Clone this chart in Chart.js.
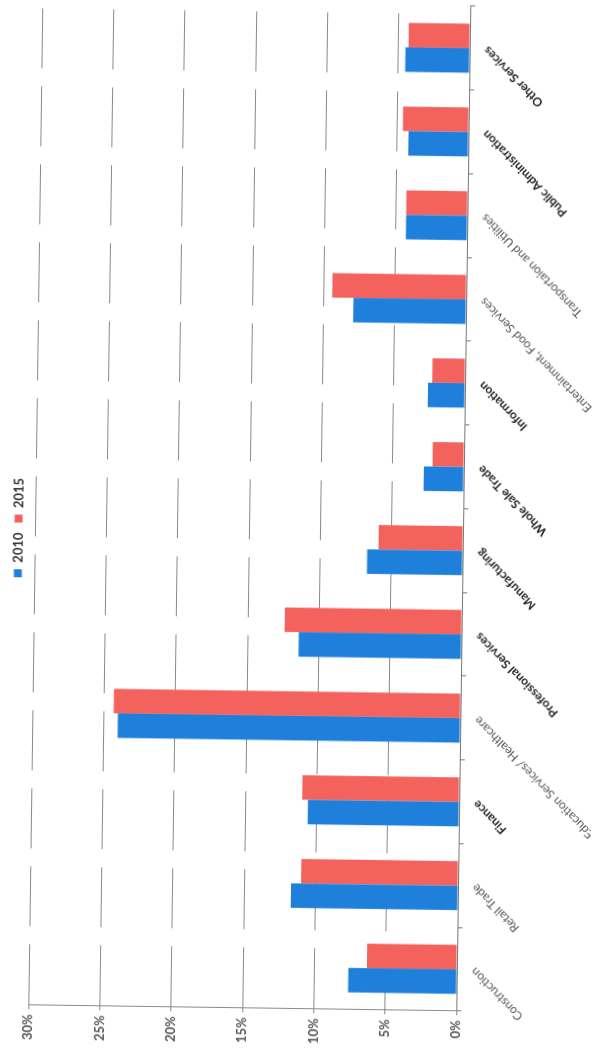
<!DOCTYPE html>
<html>
<head>
<meta charset="utf-8">
<script src="https://cdn.jsdelivr.net/npm/chart.js@4.4.1/dist/chart.umd.min.js"></script>
<style>
  html, body { margin: 0; padding: 0; background: #fff; overflow: hidden; }
  body { width: 595px; height: 1059px; position: relative; }
  /* the column chart is laid out landscape and turned onto the page */
  #wrap {
    position: absolute;
    left: -232px;
    top: 232px;
    width: 1059px;
    height: 595px;
    transform: rotate(-89.2deg);
    transform-origin: 50% 50%;
  }
</style>
</head>
<body>
<div id="wrap"><canvas id="sectorChart" width="1059" height="595"></canvas></div>
<script>
const sectors = [
    'Construction',
    'Retail Trade',
    'Finance',
    'Education Services/ Healthcare',
    'Professional Services',
    'Manufacturing',
    'Whole Sale Trade',
    'Information',
    'Entertainment, Food Services',
    'Transportaion and Utilities',
    'Public Administration',
    'Other Services'
];
const share2010 = [7.6, 11.7, 10.6, 24.0, 11.4, 6.7, 2.8, 2.6, 7.9, 4.3, 4.2, 4.5];
const share2015 = [6.3, 11.0, 11.0, 24.3, 12.4, 5.9, 2.2, 2.3, 9.4, 4.3, 4.6, 4.3];
const percentTicks = [0, 5, 10, 15, 20, 25, 30];

const FONT = 'Lato, "Open Sans", sans-serif';
const BLUE = '#1f80dc';
const RED = '#f3625c';

// these sector names print heavier on the axis
const heavyLabels = new Set([
    'Finance', 'Professional Services', 'Manufacturing', 'Whole Sale Trade',
    'Information', 'Public Administration', 'Other Services'
]);

const ctx = document.getElementById('sectorChart').getContext('2d');

new Chart(ctx, {
    type: 'bar',
    data: {
        labels: sectors,
        datasets: [
            {
                label: '2010',
                data: share2010,
                backgroundColor: BLUE,
                categoryPercentage: 0.585,
                barPercentage: 1.0
            },
            {
                label: '2015',
                data: share2015,
                backgroundColor: RED,
                categoryPercentage: 0.585,
                barPercentage: 1.0
            }
        ]
    },
    options: {
        responsive: false,
        animation: false,
        layout: {
            padding: { top: 2, right: 4, left: 0, bottom: 0 }
        },
        plugins: {
            legend: {
                display: true,
                position: 'top',
                labels: {
                    boxWidth: 8,
                    boxHeight: 8,
                    padding: 10,
                    color: '#333',
                    font: { family: FONT, size: 13, weight: 'bold' }
                }
            },
            tooltip: { enabled: false }
        },
        scales: {
            x: {
                grid: {
                    offset: true,
                    drawOnChartArea: false,
                    drawTicks: true,
                    tickLength: 5,
                    color: '#777'
                },
                border: { display: true, color: '#777', width: 1 },
                ticks: {
                    autoSkip: false,
                    minRotation: 45,
                    maxRotation: 45,
                    padding: 6,
                    color: (c) => heavyLabels.has(sectors[c.index]) ? '#222' : '#555',
                    font: (c) => ({
                        family: FONT,
                        size: 12,
                        weight: heavyLabels.has(sectors[c.index]) ? 'bold' : 'normal'
                    })
                },
                afterFit: (scale) => { scale.height = 132; }
            },
            y: {
                min: percentTicks[0],
                max: percentTicks[percentTicks.length - 1],
                grid: {
                    color: 'rgba(85,85,85,0.7)',
                    lineWidth: 1,
                    tickLength: 4,
                    drawTicks: true
                },
                // dash here also breaks up the value gridlines, like the print
                border: { display: true, color: '#8a8a8a', dash: [60, 18] },
                ticks: {
                    stepSize: percentTicks[1] - percentTicks[0],
                    color: '#555',
                    padding: 5,
                    font: { family: FONT, size: 13, weight: 'bold' },
                    callback: (v) => v + '%'
                },
                afterFit: (scale) => { scale.width = 50; }
            }
        }
    }
});
</script>
</body>
</html>
